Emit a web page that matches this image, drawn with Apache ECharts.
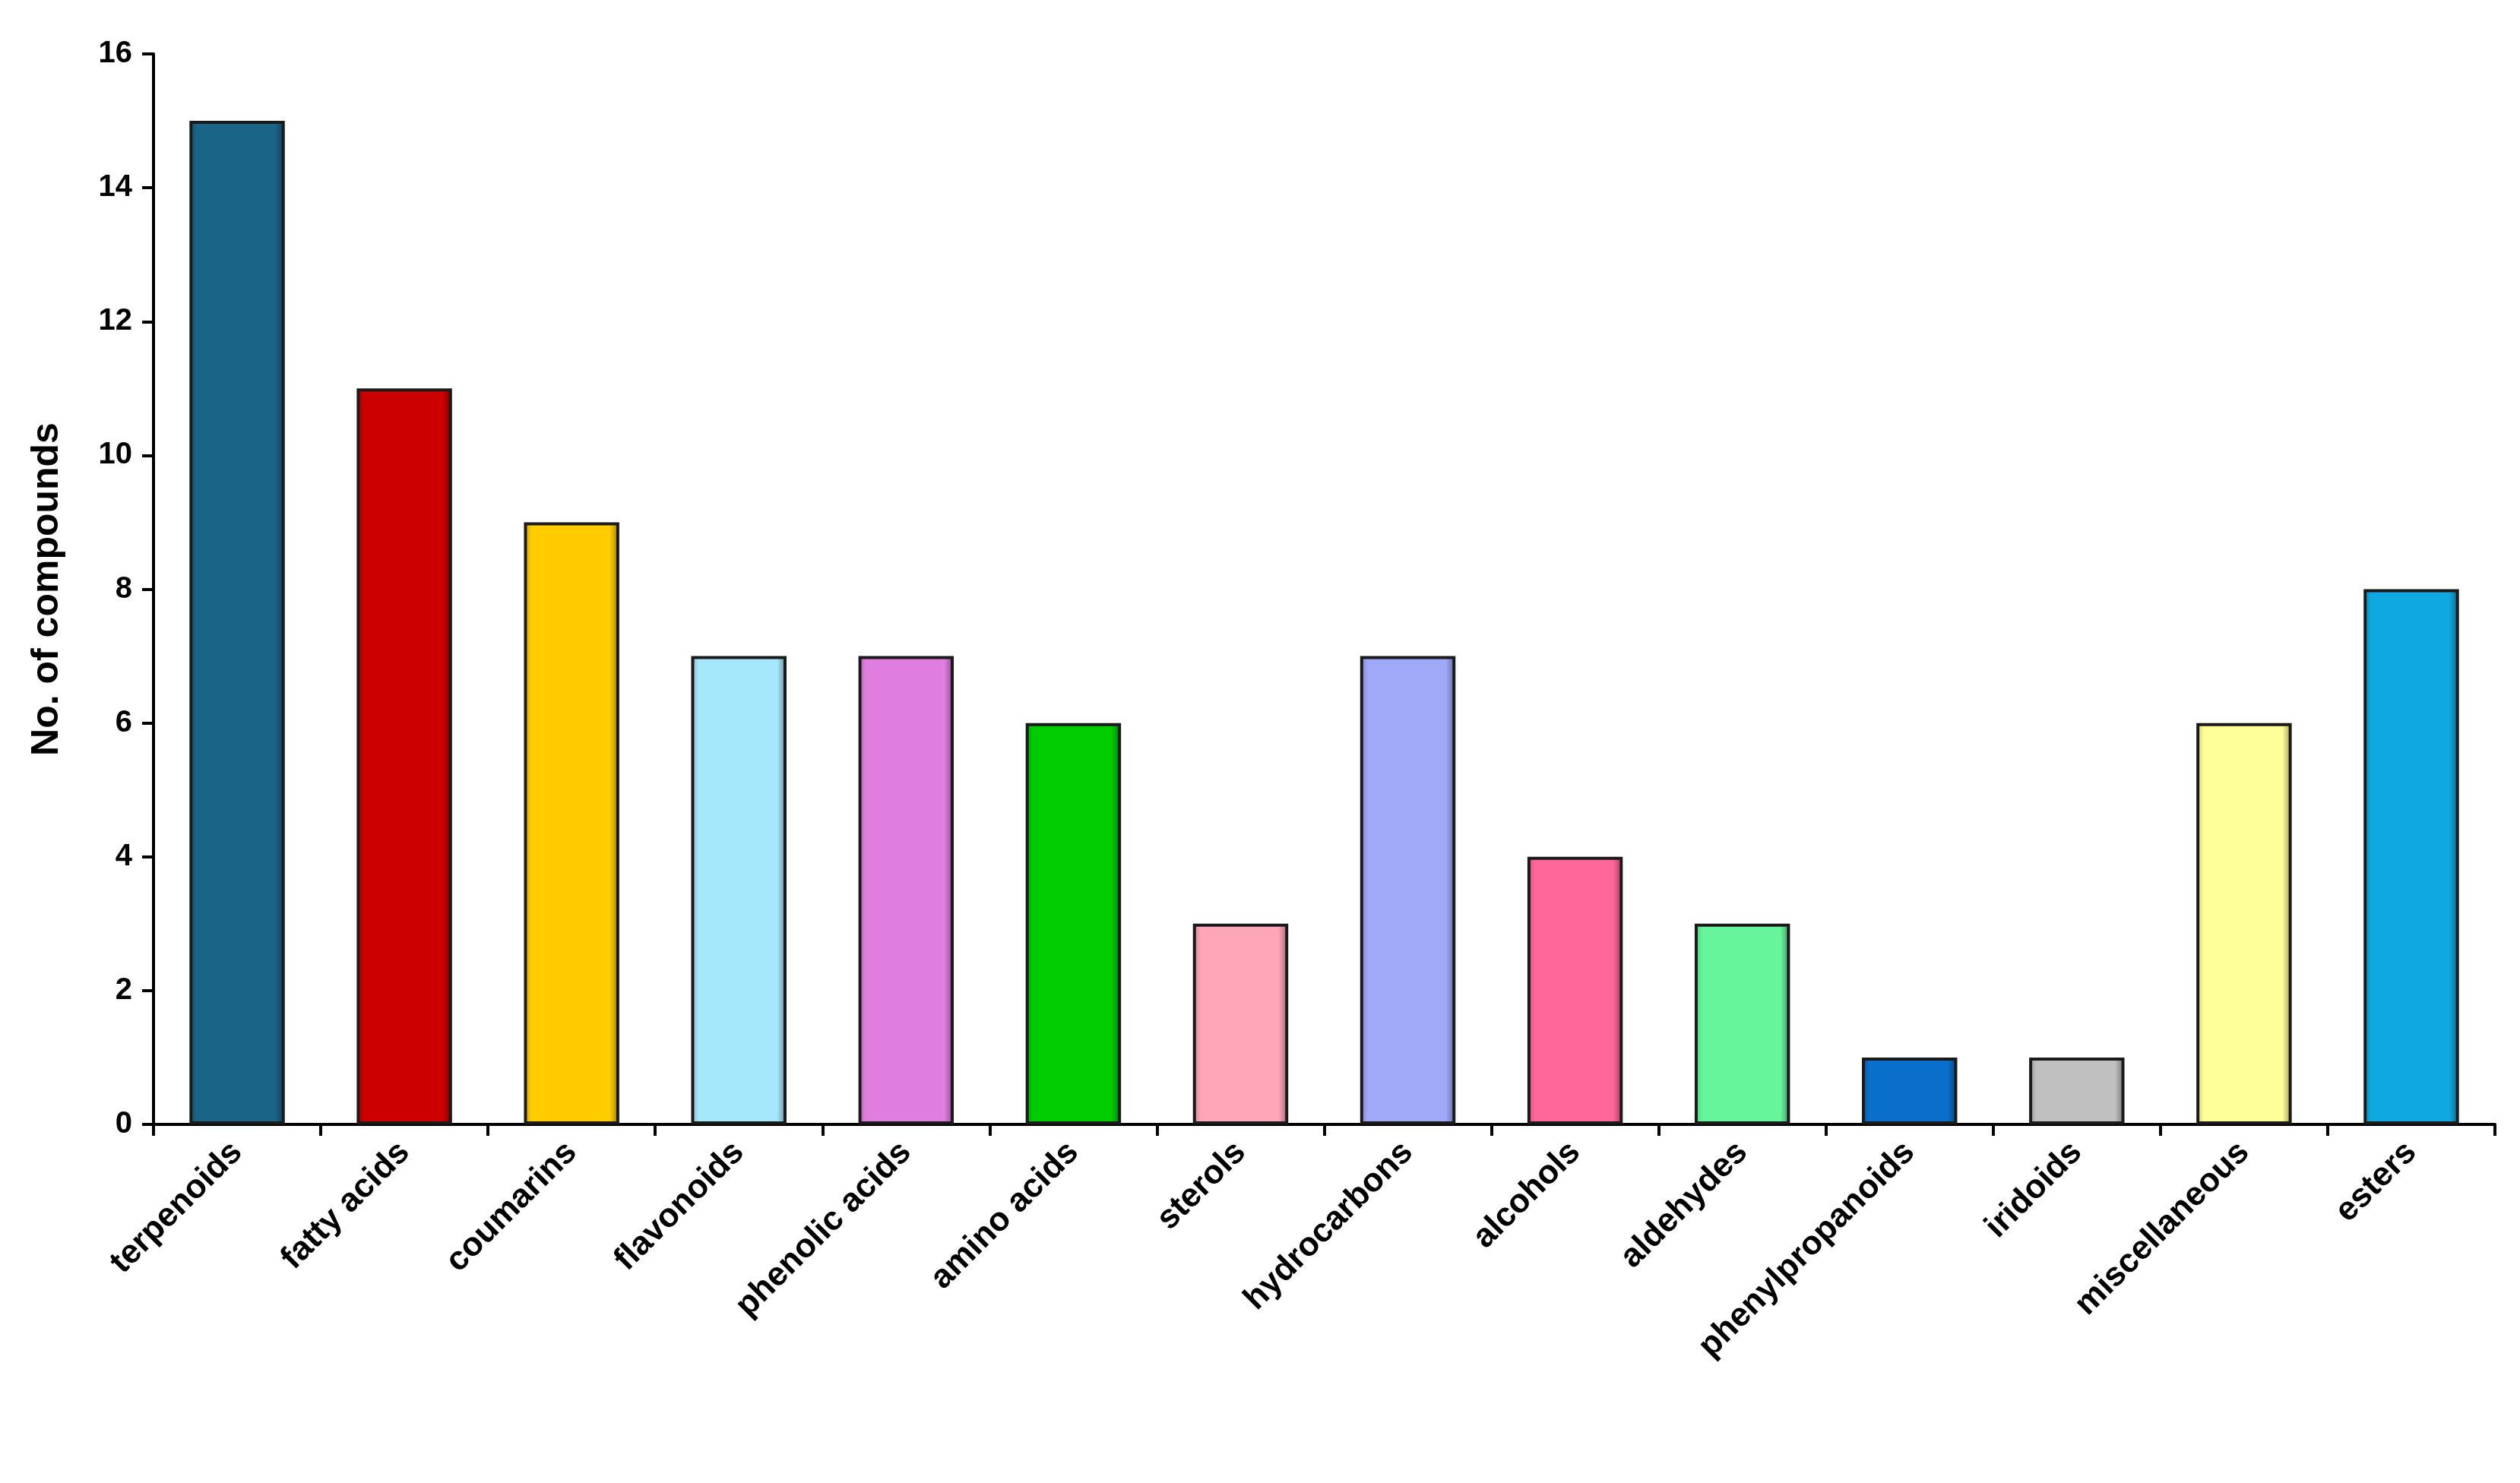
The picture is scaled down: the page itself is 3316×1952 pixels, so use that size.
<!DOCTYPE html>
<html><head><meta charset="utf-8">
<script src="https://cdn.jsdelivr.net/npm/echarts@6/dist/echarts.min.js"></script>
<style>html,body{margin:0;background:#fff}#c{width:3316px;height:1952px}</style>
</head><body><div id="c"></div>
<script>
const categories = ['terpenoids','fatty acids','coumarins','flavonoids','phenolic acids','amino acids','sterols','hydrocarbons','alcohols','aldehydes','phenylpropanoids','iridoids','miscellaneous','esters'];
const values = [15,11,9,7,7,6,3,7,4,3,1,1,6,8];
const barColors = ['#1a6488','#cc0000','#ffcc00','#a6e8fb','#e07ee0','#00cc00','#ffa6b8','#a0a8f8','#ff6699','#66f59a','#0a6fc8','#c0c0c0','#ffff99','#10a8e0'];
const yTicks = [0,2,4,6,8,10,12,14,16];

function shade(hex, f){
  const n=parseInt(hex.slice(1),16);let r=n>>16,g=(n>>8)&255,b=n&255;
  const m=v=>Math.max(0,Math.min(255,Math.round(f<1?v*f:v+(255-v)*(f-1))));
  return 'rgb('+m(r)+','+m(g)+','+m(b)+')';
}
const font='"Liberation Sans", Arial, sans-serif';
const chart = echarts.init(document.getElementById('c'));
chart.setOption({
  animation:false,
  grid:{left:202,right:33,top:71,bottom:472},
  xAxis:{type:'category',data:categories,
    axisLine:{lineStyle:{color:'#000',width:4}},
    axisTick:{show:true,alignWithLabel:false,length:15,lineStyle:{color:'#000',width:4}},
    axisLabel:{rotate:45,interval:0,fontFamily:font,fontWeight:'bold',fontSize:44,color:'#000',margin:30}},
  yAxis:{type:'value',min:yTicks[0],max:yTicks[yTicks.length-1],interval:2,
    name:'No. of compounds',nameLocation:'middle',nameGap:115,
    nameTextStyle:{fontFamily:font,fontWeight:'bold',fontSize:50,color:'#000'},
    splitLine:{show:false},
    axisLine:{show:true,lineStyle:{color:'#000',width:4}},
    axisTick:{show:true,inside:false,length:15,lineStyle:{color:'#000',width:4}},
    axisLabel:{fontFamily:font,fontWeight:'bold',fontSize:40,color:'#000',margin:28}},
  series:[{type:'bar',barWidth:'57%',
    data:values.map((v,i)=>({value:v,itemStyle:{
      color:{type:'linear',x:0,y:0,x2:1,y2:0,colorStops:[
        {offset:0,color:shade(barColors[i],0.8)},{offset:0.08,color:barColors[i]},
        {offset:0.9,color:barColors[i]},{offset:1,color:shade(barColors[i],0.6)}]},
      borderColor:'#1a1a1a',borderWidth:4}}))}]
});
</script></body></html>
